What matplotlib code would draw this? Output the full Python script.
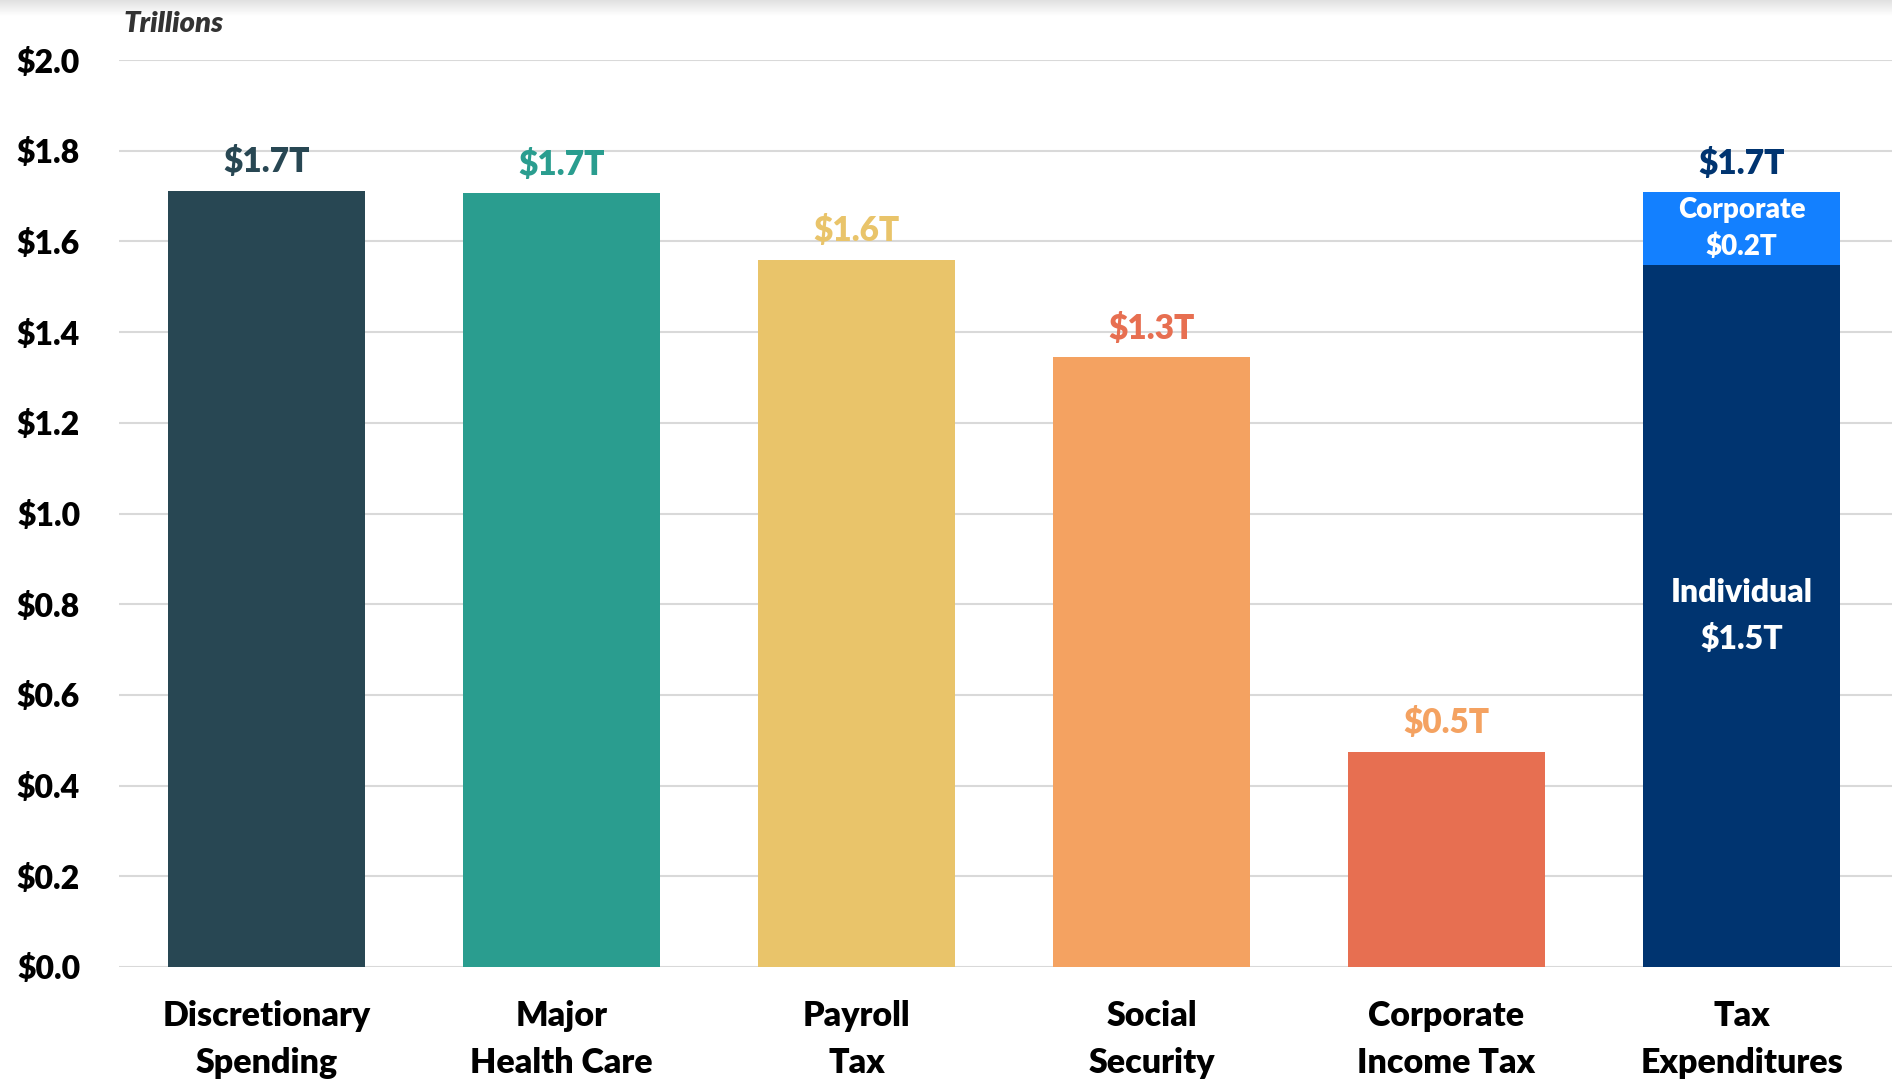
import matplotlib
matplotlib.use("Agg")
import matplotlib.pyplot as plt
import numpy as np

categories = ["Discretionary\nSpending", "Major\nHealth Care", "Payroll\nTax",
              "Social\nSecurity", "Corporate\nIncome Tax", "Tax\nExpenditures"]
values = [1.712, 1.707, 1.560, 1.345, 0.475, None]
value_labels = ["$1.7T", "$1.7T", "$1.6T", "$1.3T", "$0.5T", "$1.7T"]
bar_colors = ["#284753", "#2A9D8F", "#E9C46A", "#F4A261", "#E76F51"]
label_colors = ["#284753", "#2A9D8F", "#E9C46A", "#E76F51", "#F4A261", "#003470"]
tax_individual = 1.548
tax_corporate = 0.161
ytick_vals = [0.0, 0.2, 0.4, 0.6, 0.8, 1.0, 1.2, 1.4, 1.6, 1.8, 2.0]
ytick_labels = ["$%.1f" % v for v in ytick_vals]

plt.rcParams['font.family'] = ['Lato', 'DejaVu Sans']
WT = 'heavy'

fig = plt.figure(figsize=(18.92, 10.88), dpi=100)
ax = fig.add_axes([119/1892, 1-967/1088, 1-119/1892, (967-60)/1088])

# top shadow band
sh = fig.add_axes([0, 1-16/1088, 1, 16/1088])
grad = np.linspace(0.88, 1.0, 50).reshape(-1, 1)
sh.imshow(np.repeat(grad, 2, axis=1), cmap='gray', vmin=0, vmax=1, aspect='auto',
          extent=[0, 1, 0, 1])
sh.axis('off')

x = np.arange(len(categories))
w = 0.668
for i in range(5):
    ax.bar(x[i], values[i], width=w, color=bar_colors[i], zorder=3)
ax.bar(x[5], tax_individual, width=w, color="#003470", zorder=3)
ax.bar(x[5], tax_corporate, bottom=tax_individual, width=w, color="#1380FF", zorder=3)

tops = values[:5] + [tax_individual + tax_corporate]
for i in range(6):
    ax.text(x[i], tops[i] + 0.027, value_labels[i], ha='center', va='bottom',
            fontsize=24, fontweight=WT, color=label_colors[i], zorder=4)

ax.text(x[5], tax_individual + tax_corporate/2, "Corporate\n$0.2T", ha='center', va='center',
        fontsize=20, fontweight=WT, color='white', linespacing=1.45, zorder=4)
ax.text(x[5], tax_individual/2, "Individual\n$1.5T", ha='center', va='center',
        fontsize=23, fontweight=WT, color='white', linespacing=1.65, zorder=4)

ax.set_ylim(0, 2.0)
ax.set_xlim(-0.5, 5.51)
ax.set_yticks(ytick_vals)
ax.set_yticklabels(ytick_labels, fontsize=23, fontweight=WT)
ax.set_xticks(x)
ax.set_xticklabels(categories, fontsize=24.5, fontweight=WT, linespacing=1.55)
ax.tick_params(axis='y', length=0, pad=28)
ax.tick_params(axis='x', length=0, pad=24)
ax.yaxis.grid(True, color='#d9d9d9', linewidth=1.5, zorder=0)
ax.set_axisbelow(True)
for s in ax.spines.values():
    s.set_visible(False)

fig.text(123/1892, 1-24/1088, "Trillions", ha='left', va='center', fontsize=21,
         fontstyle='italic', fontweight=WT, color='#333333')

fig.savefig("out.png", dpi=100)
